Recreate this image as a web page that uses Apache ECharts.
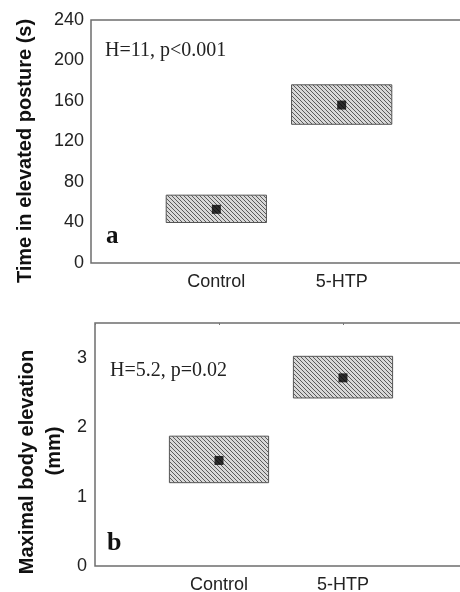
<!DOCTYPE html>
<html>
<head>
<meta charset="utf-8">
<script src="https://cdn.jsdelivr.net/npm/echarts@6/dist/echarts.min.js"></script>
<style>
html,body{margin:0;padding:0;background:#fff}
#chart{width:460px;height:592px}
</style>
</head>
<body>
<div id="chart"></div>
<script>
// groups and where they sit on the x axis
var categories = ['Control', '5-HTP'];
var catPos = [1, 2];

// panel a: time in elevated posture (s) - median and interquartile box
var timeLow = [40, 137];
var timeHigh = [67, 176];
var timeMedian = [53, 156];

// panel b: maximal body elevation (mm)
var elevLow = [1.20, 2.42];
var elevHigh = [1.87, 3.02];
var elevMedian = [1.52, 2.71];

// hatched fill like the printed figure
var tile = document.createElement('canvas');
tile.width = 4; tile.height = 4;
var g = tile.getContext('2d');
g.fillStyle = '#d8d8d8';
g.fillRect(0, 0, 4, 4);
g.strokeStyle = '#5a5a5a';
g.lineWidth = 1;
g.beginPath();
g.moveTo(-1, -1); g.lineTo(5, 5);
g.moveTo(-1, 3); g.lineTo(1, 5);
g.moveTo(3, -1); g.lineTo(5, 1);
g.stroke();
var hatch = {image: tile, repeat: 'repeat'};

function boxItem(params, api) {
  var x = api.value(0);
  var p1 = api.coord([x - 0.4, api.value(2)]);
  var p2 = api.coord([x + 0.4, api.value(1)]);
  return {
    type: 'rect',
    shape: {x: p1[0], y: p1[1], width: p2[0] - p1[0], height: p2[1] - p1[1]},
    style: {fill: hatch, stroke: '#555', lineWidth: 1}
  };
}

var labelFont = {color: '#222', fontSize: 18, fontFamily: 'Liberation Sans'};

function xAxisFor(i) {
  return {
    type: 'value', gridIndex: i, min: 0, max: 3, interval: 1,
    axisLine: {show: false}, axisTick: {show: false}, splitLine: {show: false},
    axisLabel: Object.assign({
      margin: 10,
      formatter: function (v) { var k = catPos.indexOf(v); return k < 0 ? '' : categories[k]; }
    }, labelFont)
  };
}

var chart = echarts.init(document.getElementById('chart'));
chart.setOption({
  animation: false,
  backgroundColor: '#fff',
  grid: [
    {left: 91, top: 20, width: 376, height: 243, outerBoundsMode: 'none', containLabel: false,
      show: true, borderColor: '#6e6e6e', borderWidth: 1.5, backgroundColor: '#fff'},
    {left: 95, top: 323, width: 372, height: 243, outerBoundsMode: 'none', containLabel: false,
      show: true, borderColor: '#6e6e6e', borderWidth: 1.5, backgroundColor: '#fff'}
  ],
  xAxis: [
    xAxisFor(0),
    xAxisFor(1),
    {
      type: 'value', gridIndex: 1, position: 'top', min: 0, max: 3, interval: 1,
      axisLine: {show: false}, splitLine: {show: false}, axisLabel: {show: false},
      axisTick: {show: true, inside: true, length: 2, lineStyle: {color: '#777'}}
    }
  ],
  yAxis: [
    {
      type: 'value', gridIndex: 0, min: 0, max: 240, interval: 40,
      axisLine: {show: false}, axisTick: {show: false}, splitLine: {show: false},
      axisLabel: Object.assign({margin: 7}, labelFont)
    },
    {
      type: 'value', gridIndex: 1, min: 0, max: 3.5, interval: 1,
      axisLine: {show: false}, axisTick: {show: false}, splitLine: {show: false},
      axisLabel: Object.assign({
        margin: 8,
        formatter: function (v) { return v % 1 === 0 ? String(v) : ''; }
      }, labelFont)
    }
  ],
  series: [
    {
      type: 'custom', xAxisIndex: 0, yAxisIndex: 0, renderItem: boxItem,
      data: catPos.map(function (x, i) { return [x, timeLow[i], timeHigh[i]]; })
    },
    {
      type: 'scatter', xAxisIndex: 0, yAxisIndex: 0, symbol: 'rect', symbolSize: 9,
      itemStyle: {color: '#000'}, z: 5,
      data: catPos.map(function (x, i) { return [x, timeMedian[i]]; })
    },
    {
      type: 'custom', xAxisIndex: 1, yAxisIndex: 1, renderItem: boxItem,
      data: catPos.map(function (x, i) { return [x, elevLow[i], elevHigh[i]]; })
    },
    {
      type: 'scatter', xAxisIndex: 1, yAxisIndex: 1, symbol: 'rect', symbolSize: 9,
      itemStyle: {color: '#000'}, z: 5,
      data: catPos.map(function (x, i) { return [x, elevMedian[i]]; })
    }
  ],
  graphic: [
    {type: 'text', x: 25, y: 151, rotation: Math.PI / 2,
      style: {text: 'Time in elevated posture (s)', font: 'bold 20px "Liberation Sans"', fill: '#111',
        align: 'center', verticalAlign: 'middle', textAlign: 'center', textVerticalAlign: 'middle'}},
    {type: 'text', x: 27, y: 462, rotation: Math.PI / 2,
      style: {text: 'Maximal body elevation', font: 'bold 20px "Liberation Sans"', fill: '#111',
        align: 'center', verticalAlign: 'middle', textAlign: 'center', textVerticalAlign: 'middle'}},
    {type: 'text', x: 54, y: 451, rotation: Math.PI / 2,
      style: {text: '(mm)', font: 'bold 20px "Liberation Sans"', fill: '#111',
        align: 'center', verticalAlign: 'middle', textAlign: 'center', textVerticalAlign: 'middle'}},
    {type: 'text', x: 105, y: 51,
      style: {text: 'H=11, p<0.001', font: '20px "Liberation Serif"', fill: '#222',
        align: 'left', verticalAlign: 'middle', textAlign: 'left', textVerticalAlign: 'middle'}},
    {type: 'text', x: 106, y: 237,
      style: {text: 'a', font: 'bold 25px "Liberation Serif"', fill: '#111',
        align: 'left', verticalAlign: 'middle', textAlign: 'left', textVerticalAlign: 'middle'}},
    {type: 'text', x: 110, y: 371,
      style: {text: 'H=5.2, p=0.02', font: '20px "Liberation Serif"', fill: '#222',
        align: 'left', verticalAlign: 'middle', textAlign: 'left', textVerticalAlign: 'middle'}},
    {type: 'text', x: 107, y: 543,
      style: {text: 'b', font: 'bold 26px "Liberation Serif"', fill: '#111',
        align: 'left', verticalAlign: 'middle', textAlign: 'left', textVerticalAlign: 'middle'}}
  ]
});
</script>
</body>
</html>
